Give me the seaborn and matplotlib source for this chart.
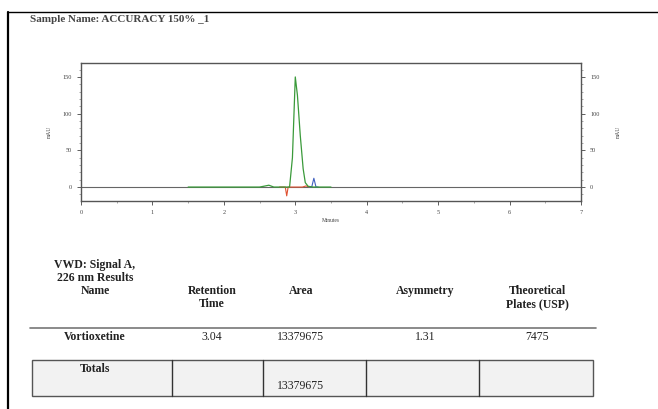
import matplotlib
matplotlib.use("Agg")
import matplotlib.pyplot as plt
from matplotlib.lines import Line2D
from matplotlib.patches import Rectangle
from matplotlib.ticker import MultipleLocator
import seaborn as sns
import pandas as pd

# ---- data ----
green_t = [1.5, 2.50, 2.58, 2.63, 2.70, 2.92, 2.96, 3.00, 3.03, 3.07, 3.11, 3.14, 3.18, 3.25, 3.5]
green_y = [0.0, 0.0, 1.5, 2.5, 0.0, 0.0, 40.0, 150.0, 125.0, 70.0, 25.0, 6.0, 1.0, 0.0, 0.0]
red_t = [2.78, 2.86, 2.88, 2.90, 2.93, 3.10, 3.15, 3.20]
red_y = [0.0, 0.0, -12.0, 0.0, 0.0, 0.0, 1.5, 0.0]
blue_t = [3.20, 3.23, 3.26, 3.29, 3.32]
blue_y = [0.0, 0.0, 12.0, 0.0, 0.0]

x_ticks = [0, 1, 2, 3, 4, 5, 6, 7]
y_ticks = [0, 50, 100, 150]

title_text = "Sample Name: ACCURACY 150% _1"
table_title = ["VWD: Signal A,", "226 nm Results"]
headers = ["Name", "Retention\nTime", "Area", "Asymmetry", "Theoretical\nPlates (USP)"]
row = ["Vortioxetine", "3.04", "13379675", "1.31", "7475"]
totals_label = "Totals"
totals_area = "13379675"

sns.set_style("white")
plt.rcParams["font.family"] = ["Liberation Serif", "DejaVu Serif"]

W, H = 658, 409
fig = plt.figure(figsize=(W / 100, H / 100), dpi=100)

def fx(px):
    return px / W

def fy(py):
    return 1 - py / H

ax = fig.add_axes([fx(81), fy(201), fx(581) - fx(81), fy(63) - fy(201)])
ax.axhline(0, color="#666666", lw=0.8, zorder=1)
sns.lineplot(x=green_t, y=green_y, ax=ax, color="#3a9a3a", lw=0.9, zorder=3, sort=False)
sns.lineplot(x=red_t, y=red_y, ax=ax, color="#e05030", lw=0.8, zorder=2, sort=False)
sns.lineplot(x=blue_t, y=blue_y, ax=ax, color="#4060c0", lw=0.8, zorder=2, sort=False)
ax.set_xlim(0, 7)
ax.set_ylim(-19, 169)
ax.set_xticks(x_ticks)
ax.set_yticks(y_ticks)
ax.xaxis.set_minor_locator(MultipleLocator(0.5))
ax.yaxis.set_minor_locator(MultipleLocator(10))
ax.tick_params(axis="both", which="major", labelsize=4.5, length=3, width=0.6,
               colors="#444444", direction="out", left=True, bottom=True,
               right=True, labelright=True)
ax.tick_params(axis="both", which="minor", length=1.5, width=0.4, colors="#666666",
               left=True, bottom=True, right=True)
for s in ax.spines.values():
    s.set_color("#555555")
    s.set_linewidth(1.0)
ax.set_xlabel("Minutes", fontsize=4, color="#444444", labelpad=2)
ax.set_ylabel("mAU", fontsize=4, color="#444444", labelpad=8)
ax.text(1.075, 0.5, "mAU", transform=ax.transAxes, rotation=90, fontsize=4,
        color="#444444", va="center", ha="center")

# page border
fig.add_artist(Line2D([fx(8), fx(8)], [fy(12), 0], color="black", lw=1.6))
fig.add_artist(Line2D([fx(8), 1], [fy(12), fy(12)], color="black", lw=1.0))

fig.text(fx(30), fy(20), title_text, fontsize=8, fontweight="bold",
         color="#444444", va="center", ha="left")

# results table
bold = dict(fontsize=8.5, fontweight="bold", color="#222222", ha="center")
fig.text(fx(95), fy(265), table_title[0], va="center", **bold)
fig.text(fx(95), fy(278), table_title[1], va="center", **bold)
col_x = [95, 212, 301, 425, 537]
for cx, h in zip(col_x, headers):
    n = h.count("\n")
    y0 = 291 + 6.5 * n
    fig.text(fx(cx), fy(y0), h, va="center", linespacing=1.1, **bold)
fig.add_artist(Line2D([fx(30), fx(596)], [fy(328), fy(328)], color="#777777", lw=1.2))
for cx, v in zip(col_x, row):
    wt = "bold" if cx == col_x[0] else "normal"
    fig.text(fx(cx), fy(337), v, fontsize=8.5, fontweight=wt, color="#222222",
             ha="center", va="center")

fig.add_artist(Rectangle((fx(32), fy(396)), fx(593) - fx(32), fy(360) - fy(396),
                         facecolor="#f2f2f2", edgecolor="#555555", lw=1.0))
for vx in [172, 263, 366, 479]:
    fig.add_artist(Line2D([fx(vx), fx(vx)], [fy(360), fy(396)], color="#333333", lw=1.0))
fig.text(fx(95), fy(369), totals_label, va="center", **bold)
fig.text(fx(301), fy(386), totals_area, fontsize=8.5, color="#222222",
         ha="center", va="center")

fig.savefig("out.png", dpi=100)
